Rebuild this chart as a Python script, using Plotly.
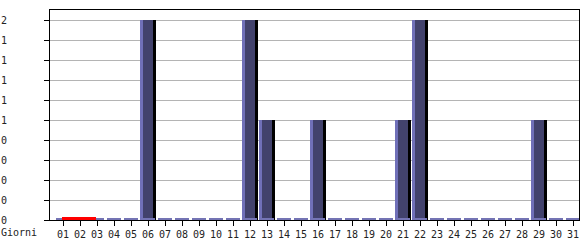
import plotly.graph_objects as go

days = ["01","02","03","04","05","06","07","08","09","10","11","12","13","14","15","16",
        "17","18","19","20","21","22","23","24","25","26","27","28","29","30","31"]
visits = [0,0,0,0,0,2,0,0,0,0,0,2,1,0,0,1,0,0,0,0,1,2,0,0,0,0,0,0,1,0,0]
highlight_days = ["01","02"]
y_tick_values = [0,0.2,0.4,0.6,0.8,1.0,1.2,1.4,1.6,1.8,2.0]
y_tick_labels = ["0","0","0","0","0","1","1","1","1","1","2"]
x_label = "Giorni"

xpos = list(range(1, len(days)+1))
idx = {d: i+1 for i, d in enumerate(days)}
nz_x = [x for x, v in zip(xpos, visits) if v > 0]
nz_y = [v for v in visits if v > 0]
z_x = [x for x, v in zip(xpos, visits) if v == 0]

MARK_H = 0.022  # visual thickness of the baseline marks (style only)
FONT = "DejaVu Sans Mono"
fig = go.Figure()
# light left edge
fig.add_trace(go.Bar(x=nz_x, y=nz_y, offset=-0.45, width=0.78,
                     marker=dict(color="#7070b8", line=dict(width=0)), hoverinfo="skip"))
# dark body
fig.add_trace(go.Bar(x=nz_x, y=nz_y, offset=-0.32, width=0.64,
                     marker=dict(color="#42426c", line=dict(width=0)), hoverinfo="skip"))
# black shadow
fig.add_trace(go.Bar(x=nz_x, y=nz_y, offset=0.32, width=0.13,
                     marker=dict(color="#000000", line=dict(width=0)), hoverinfo="skip"))
# zero marks
fig.add_trace(go.Bar(x=xpos, y=[MARK_H]*len(xpos), base=0, offset=-0.42, width=0.84,
                     marker=dict(color="#7474b4", line=dict(width=0)), hoverinfo="skip"))
# red highlight
fig.add_trace(go.Bar(x=[idx[d] for d in highlight_days], y=[MARK_H + 0.008]*len(highlight_days),
                     base=0, offset=-0.05, width=1.0,
                     marker=dict(color="#ff0000", line=dict(width=0)), hoverinfo="skip"))

fig.update_layout(
    width=585, height=240, margin=dict(l=50, r=6, t=10, b=20, autoexpand=False),
    paper_bgcolor="white", plot_bgcolor="white", showlegend=False,
    barmode="overlay", bargap=0,
    font=dict(family=FONT, size=10, color="#222222"),
)
fig.update_xaxes(range=[0.235, 31.353], tickvals=xpos, ticktext=days, automargin=False,
                 showgrid=False, zeroline=False, showline=True, mirror=True,
                 linecolor="black", linewidth=1, ticks="outside", ticklen=5,
                 tickcolor="black", tickwidth=1, tickfont=dict(family=FONT, size=10))
fig.update_yaxes(range=[0, 2.1], tickvals=y_tick_values, ticktext=y_tick_labels,
                 automargin=False,
                 showgrid=True, gridcolor="#b4b4b4", gridwidth=1, zeroline=False,
                 showline=True, mirror=True, linecolor="black", linewidth=1,
                 ticks="outside", ticklen=5, tickcolor="black", tickwidth=1,
                 ticklabelstandoff=35, tickfont=dict(family=FONT, size=10))
fig.add_annotation(text=x_label, xref="paper", yref="paper", x=0, y=0,
                   xanchor="left", yanchor="top", xshift=-51, yshift=-5,
                   showarrow=False, font=dict(family=FONT, size=10, color="#222222"))
fig.write_html("out.html")
